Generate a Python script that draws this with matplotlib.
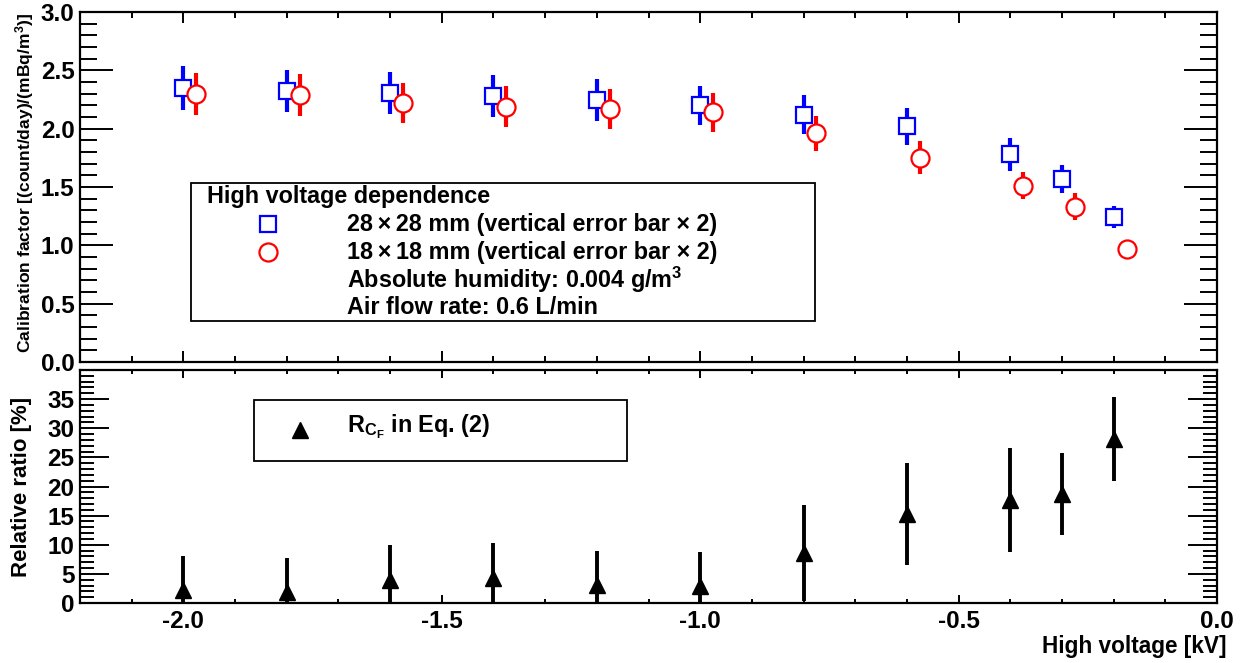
import matplotlib
matplotlib.use("Agg")
import matplotlib.pyplot as plt
from matplotlib.patches import Rectangle
from matplotlib.ticker import MultipleLocator, FormatStrFormatter, FuncFormatter
import numpy as np

plt.rcParams['font.family'] = ['Liberation Sans', 'DejaVu Sans']
plt.rcParams['font.weight'] = 'bold'
plt.rcParams['mathtext.fontset'] = 'custom'
plt.rcParams['mathtext.rm'] = 'Liberation Sans:bold'
plt.rcParams['mathtext.bf'] = 'Liberation Sans:bold'
plt.rcParams['mathtext.it'] = 'Liberation Sans:bold'

# high voltage [kV]
hv = [-2.0, -1.8, -1.6, -1.4, -1.2, -1.0, -0.8, -0.6, -0.4, -0.3, -0.2]
hv_shift = 0.025  # 18x18 points drawn slightly to the right

# calibration factor, 28x28 mm
cf28 = [2.35, 2.32, 2.31, 2.28, 2.25, 2.20, 2.12, 2.02, 1.78, 1.57, 1.245]
cf28_err = [0.19, 0.18, 0.18, 0.18, 0.18, 0.17, 0.165, 0.157, 0.14, 0.12, 0.095]

# calibration factor, 18x18 mm
cf18 = [2.30, 2.29, 2.22, 2.19, 2.17, 2.14, 1.96, 1.75, 1.51, 1.33, 0.97]
cf18_err = [0.18, 0.18, 0.175, 0.175, 0.17, 0.17, 0.15, 0.14, 0.115, 0.115, 0.05]

# relative ratio R_CF [%]
ratio = [2.2, 1.9, 3.9, 4.3, 3.1, 3.0, 8.6, 15.3, 17.7, 18.7, 28.1]
ratio_err = [5.8, 5.8, 6.0, 6.0, 5.9, 5.8, 8.3, 8.7, 8.9, 7.1, 7.2]

W, H = 1256, 663
fig = plt.figure(figsize=(W / 100, H / 100), dpi=100)


def fx(px):
    return px / W


def fy(py):
    return 1 - py / H


ax1 = fig.add_axes([fx(80), fy(362), fx(1217) - fx(80), fy(12) - fy(362)])
ax2 = fig.add_axes([fx(80), fy(603), fx(1217) - fx(80), fy(370) - fy(603)])

blue = (0, 0, 1)
red = (1, 0, 0)

ax1.errorbar(hv, cf28, yerr=cf28_err, fmt='s', color=blue, ms=12, mfc='white',
             mec=blue, mew=1.6, elinewidth=3, capsize=0, zorder=3)
ax1.errorbar(np.array(hv) + hv_shift, cf18, yerr=cf18_err, fmt='o', color=red,
             ms=13, mfc='white', mec=red, mew=1.6, elinewidth=3, capsize=0, zorder=4)

ax2.errorbar(hv, ratio, yerr=ratio_err, fmt='^', color='black', ms=11,
             elinewidth=2.8, capsize=0, zorder=3)

tfs = 17.5
for ax in (ax1, ax2):
    ax.set_xlim(-2.2, 0.0)
    for s in ax.spines.values():
        s.set_linewidth(1.6)
    ax.xaxis.set_major_locator(MultipleLocator(0.5))
    ax.xaxis.set_minor_locator(MultipleLocator(0.1))
    ax.tick_params(which='both', direction='in', top=True, right=True,
                   labelsize=tfs, width=1.4)

ax1.set_ylim(0, 3.0)
ax1.yaxis.set_major_locator(MultipleLocator(0.5))
ax1.yaxis.set_minor_locator(MultipleLocator(0.1))
ax1.yaxis.set_major_formatter(FormatStrFormatter('%.1f'))
ax1.tick_params(axis='y', which='major', length=24)
ax1.tick_params(axis='y', which='minor', length=12)
ax1.tick_params(axis='x', which='major', length=8)
ax1.tick_params(axis='x', which='minor', length=4)
ax1.tick_params(axis='x', labelbottom=False)
ax1.tick_params(axis='y', pad=4)

ax2.set_ylim(0, 40)
ax2.yaxis.set_major_locator(MultipleLocator(5))
ax2.yaxis.set_minor_locator(MultipleLocator(1))
ax2.yaxis.set_major_formatter(FuncFormatter(lambda v, p: '' if v > 37 else '%d' % v))
ax2.tick_params(axis='y', which='major', length=21)
ax2.tick_params(axis='y', which='minor', length=10)
ax2.tick_params(axis='x', which='major', length=6)
ax2.tick_params(axis='x', which='minor', length=3)
ax2.xaxis.set_major_formatter(FormatStrFormatter('%.1f'))
ax2.tick_params(axis='x', pad=5)
ax2.tick_params(axis='y', pad=4)

fig.text(fx(25), fy(13), 'Calibration factor [(count/day)/(mBq/m$^{3}$)]',
         rotation=90, ha='center', va='top', fontsize=12.6)
fig.text(fx(22), fy(487), 'Relative ratio [%]', rotation=90, ha='center',
         va='center', fontsize=16)
fig.text(fx(1226), fy(646), 'High voltage [kV]', ha='right', va='center',
         fontsize=16.3)

# legend box, top panel
fig.patches.append(Rectangle((fx(191), fy(321)), fx(815) - fx(191), fy(183) - fy(321),
                             transform=fig.transFigure, fill=False, lw=1.3,
                             edgecolor='black', zorder=5))
lfs = 16.8
ts = '\u2009\u00d7\u2009'
fig.text(fx(207), fy(196), 'High voltage dependence', ha='left', va='center', fontsize=lfs)
fig.text(fx(347), fy(224), '28' + ts + '28 mm (vertical error bar' + ' \u00d7 2)', ha='left',
         va='center', fontsize=lfs)
fig.text(fx(347), fy(252), '18' + ts + '18 mm (vertical error bar' + ' \u00d7 2)', ha='left',
         va='center', fontsize=lfs)
fig.text(fx(347), fy(280), 'Absolute humidity: 0.004 g/m$^{3}$', ha='left',
         va='center', fontsize=lfs)
fig.text(fx(347), fy(308), 'Air flow rate: 0.6 L/min', ha='left', va='center', fontsize=lfs)
fig.add_artist(plt.Line2D([fx(268)], [fy(224)], marker='s', ms=12, mfc='white',
                          mec=blue, mew=1.6, transform=fig.transFigure))
fig.add_artist(plt.Line2D([fx(268)], [fy(252)], marker='o', ms=13, mfc='white',
                          mec=red, mew=1.6, transform=fig.transFigure))

# legend box, bottom panel
fig.patches.append(Rectangle((fx(254), fy(461)), fx(627) - fx(254), fy(400) - fy(461),
                             transform=fig.transFigure, fill=False, lw=1.3,
                             edgecolor='black', zorder=5))
fig.add_artist(plt.Line2D([fx(300)], [fy(430)], marker='^', ms=11, color='black',
                          transform=fig.transFigure))
fig.text(fx(347), fy(427), r'R$_{\mathrm{C}_{\mathrm{F}}}$ in Eq. (2)', ha='left',
         va='center', fontsize=lfs)

fig.savefig('out.png', dpi=100)
